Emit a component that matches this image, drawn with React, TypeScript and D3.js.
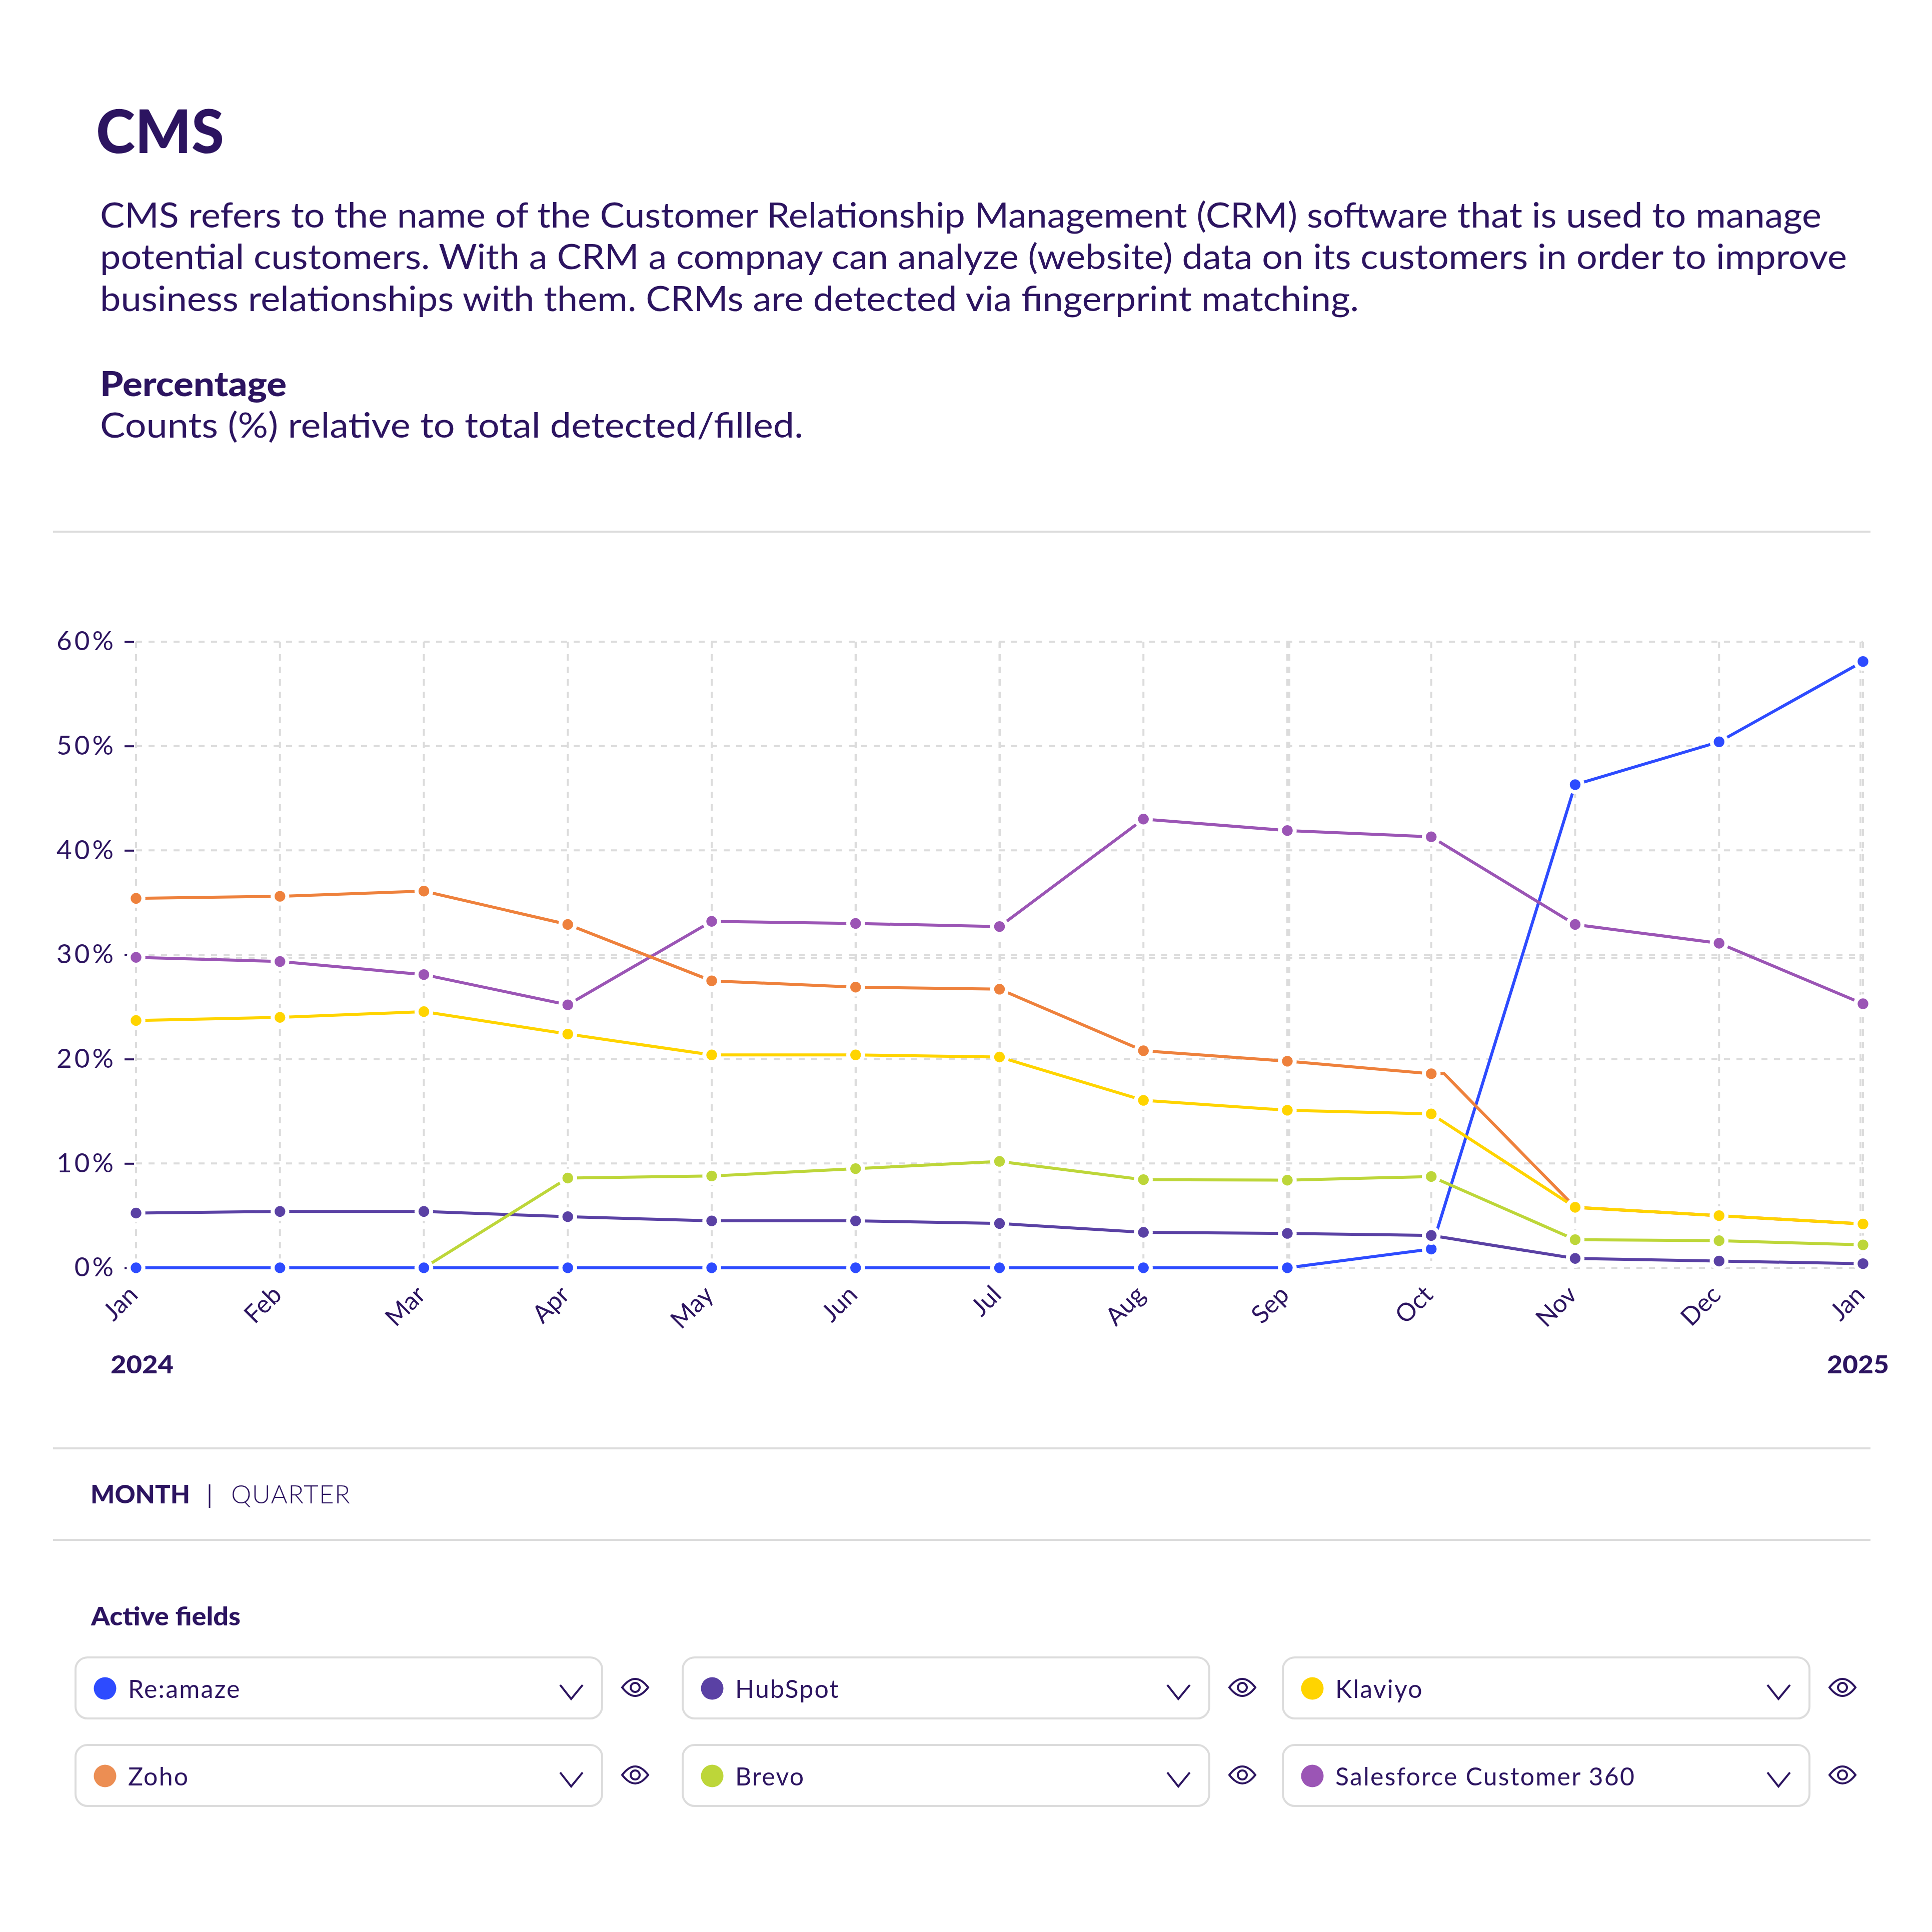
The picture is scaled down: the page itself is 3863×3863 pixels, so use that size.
import React, { useEffect, useRef } from 'react';
import * as d3 from 'd3';

const months = ['Jan', 'Feb', 'Mar', 'Apr', 'May', 'Jun', 'Jul', 'Aug', 'Sep', 'Oct', 'Nov', 'Dec', 'Jan'];
const monthIndex = months.map((_, i) => i);
const yTicks = [0, 10, 20, 30, 40, 50, 60];
// the source chart paints some grid lines twice, a bit apart
const extraXGrid = [5.004, 6.005, 8.014, 11.983];
const extraYGrid = [29.66];

const reamaze = [0, 0, 0, 0, 0, 0, 0, 0, 0, 1.8, 46.3, 50.4, 58.1];
const hubspot = [5.25, 5.4, 5.4, 4.9, 4.5, 4.5, 4.25, 3.4, 3.3, 3.1, 0.9, 0.65, 0.4];
const klaviyo = [23.7, 24.0, 24.55, 22.4, 20.4, 20.4, 20.2, 16.05, 15.1, 14.75, 5.8, 5.0, 4.2];
const zoho = [35.4, 35.6, 36.1, 32.9, 27.5, 26.9, 26.7, 20.8, 19.8, 18.6, 5.8, 5.0, 4.2];
const brevo = [null, null, 0, 8.6, 8.8, 9.5, 10.2, 8.45, 8.4, 8.75, 2.7, 2.6, 2.2];
const salesforce = [29.75, 29.35, 28.1, 25.2, 33.2, 33.0, 32.7, 43.0, 41.9, 41.3, 32.9, 31.1, 25.3];

const ink = '#2c1460';
const rule = '#dcdcdc';
const sans = 'Lato, sans-serif';

const series = [
  { name: 'Re:amaze', values: reamaze, color: '#2d4bff', swatch: '#2d4bff' },
  { name: 'HubSpot', values: hubspot, color: '#5a41a4', swatch: '#5a41a4' },
  { name: 'Klaviyo', values: klaviyo, color: '#ffd400', swatch: '#ffd400' },
  { name: 'Zoho', values: zoho, color: '#ee813c', swatch: '#ec8e53' },
  { name: 'Brevo', values: brevo, color: '#bdd639', swatch: '#bdd639' },
  { name: 'Salesforce Customer 360', values: salesforce, color: '#9b55b5', swatch: '#9b55b5' },
];
const lineOrder = ['Re:amaze', 'HubSpot', 'Salesforce Customer 360', 'Zoho', 'Klaviyo', 'Brevo'];
const dotOrder = ['Brevo', 'Zoho', 'Re:amaze', 'HubSpot', 'Klaviyo', 'Salesforce Customer 360'];

const bodyLines = [
  { text: 'CMS refers to the name of the Customer Relationship Management (CRM) software that is used to manage', y: 455, len: 3442 },
  { text: 'potential customers. With a CRM a compnay can analyze (website) data on its customers in order to improve', y: 538, len: 3493 },
  { text: 'business relationships with them. CRMs are detected via fingerprint matching.', y: 622, len: 2517 },
];

const legendCols = [151, 1365, 2565];
const legendRows = [3314, 3489];

const x = d3.scaleLinear().domain([0, 12]).range([272, 3725]);
const y = d3.scaleLinear().domain([0, 60]).range([2535, 1283]);

const Eye = ({ cx, cy }: { cx: number; cy: number }) => (
  <g fill="none" stroke={ink} strokeWidth={4}>
    <path d={`M${cx - 26},${cy} Q${cx},${cy - 34} ${cx + 26},${cy} Q${cx},${cy + 34} ${cx - 26},${cy} Z`} />
    <circle cx={cx} cy={cy} r={9} />
  </g>
);

const App: React.FC = () => {
  const chartRef = useRef<SVGGElement | null>(null);

  useEffect(() => {
    if (!chartRef.current) return;
    const g = d3.select(chartRef.current);
    g.selectAll('*').remove();

    const grid = g.append('g').attr('fill', 'none').attr('stroke', rule).attr('stroke-width', 4);
    grid.selectAll('.gy')
      .data([...yTicks, ...extraYGrid])
      .enter().append('line')
      .attr('x1', x(0)).attr('x2', x(12))
      .attr('y1', d => y(d)).attr('y2', d => y(d))
      .attr('stroke-dasharray', '12 13');
    grid.selectAll('.gx')
      .data([...monthIndex, ...extraXGrid])
      .enter().append('line')
      .attr('y1', y(60)).attr('y2', y(0))
      .attr('x1', d => x(d)).attr('x2', d => x(d))
      .attr('stroke-dasharray', '13 12');

    const yAxis = d3.axisLeft(y)
      .tickValues(yTicks)
      .tickSize(19)
      .tickSizeOuter(0)
      .tickPadding(17)
      .tickFormat(d => `${d}%`);
    const yG = g.append('g').attr('transform', 'translate(268,0)').call(yAxis);
    yG.select('.domain').remove();
    yG.selectAll('line').attr('stroke', ink).attr('stroke-width', 4);
    yG.selectAll('text')
      .attr('fill', ink)
      .style('font', `53px ${sans}`)
      .style('letter-spacing', '5px');

    const xAxis = d3.axisBottom(x)
      .tickValues(monthIndex)
      .tickSize(0)
      .tickFormat(d => months[d as number]);
    const xG = g.append('g').attr('transform', `translate(0,${y(0)})`).call(xAxis);
    xG.select('.domain').remove();
    xG.selectAll('text')
      .attr('fill', ink)
      .style('font', `50px ${sans}`)
      .attr('text-anchor', 'end')
      .attr('dy', 0)
      .attr('y', 0)
      .attr('transform', 'translate(6,57) rotate(-45)');

    const line = d3.line<number | null>()
      .defined(d => d != null)
      .x((_, i) => x(i))
      .y(d => y(d as number));

    lineOrder.forEach(name => {
      const s = series.find(k => k.name === name)!;
      // Zoho runs flat for a moment after Oct before it drops
      let path = line(s.values) as string;
      if (name === 'Zoho') {
        const kink = d3.line<[number, number]>().x(d => x(d[0])).y(d => y(d[1]));
        const pts = s.values.map((v, i) => [i, v] as [number, number]);
        pts.splice(10, 0, [9.09, 18.6]);
        path = kink(pts) as string;
      }
      g.append('path')
        .attr('d', path)
        .attr('fill', 'none')
        .attr('stroke', s.color)
        .attr('stroke-width', 6);
    });

    dotOrder.forEach(name => {
      const s = series.find(k => k.name === name)!;
      g.append('g').selectAll('circle')
        .data(s.values.map((v, i) => ({ v, i })).filter(d => d.v != null))
        .enter().append('circle')
        .attr('cx', d => x(d.i))
        .attr('cy', d => y(d.v as number))
        .attr('r', 14.7)
        .attr('fill', s.color)
        .attr('stroke', '#fff')
        .attr('stroke-width', 8);
    });
  }, []);

  return (
    <svg width={3863} height={3863} style={{ position: 'absolute', left: 0, top: 0, background: '#fff' }} fontFamily={sans} fill={ink}>
      <text x={192} y={306} fontSize={120} fontWeight={900} textLength={256} lengthAdjust="spacingAndGlyphs">CMS</text>
      {bodyLines.map(l => (
        <text key={l.y} x={200} y={l.y} fontSize={69} textLength={l.len} lengthAdjust="spacingAndGlyphs">{l.text}</text>
      ))}
      <text x={200} y={792} fontSize={69} fontWeight={900} textLength={373} lengthAdjust="spacingAndGlyphs">Percentage</text>
      <text x={200} y={875} fontSize={69} textLength={1406} lengthAdjust="spacingAndGlyphs">Counts (%) relative to total detected/filled.</text>

      {[1063, 2896, 3079].map(yy => (
        <line key={yy} x1={106} x2={3740} y1={yy} y2={yy} stroke={rule} strokeWidth={4} />
      ))}

      <g ref={chartRef} />

      <text x={221} y={2746} fontSize={50} fontWeight={900} textLength={126} lengthAdjust="spacingAndGlyphs">2024</text>
      <text x={3653} y={2746} fontSize={50} fontWeight={900} textLength={124} lengthAdjust="spacingAndGlyphs">2025</text>

      <text x={181} y={3006} fontSize={51} fontWeight={900} textLength={199} lengthAdjust="spacingAndGlyphs">MONTH</text>
      <line x1={419} x2={419} y1={2968} y2={3015} stroke={ink} strokeWidth={3} />
      <text x={462} y={3006} fontSize={51} fontWeight={300} textLength={238}>QUARTER</text>

      <text x={182} y={3250} fontSize={52} fontWeight={900} textLength={299} lengthAdjust="spacingAndGlyphs">Active fields</text>

      {series.map((s, i) => {
        const bx = legendCols[i % 3];
        const by = legendRows[Math.floor(i / 3)];
        return (
          <g key={s.name}>
            <rect x={bx} y={by} width={1053} height={122} rx={24} fill="#fff" stroke={rule} strokeWidth={4} />
            <circle cx={bx + 59} cy={by + 62} r={22.5} fill={s.swatch} />
            <text x={bx + 105} y={by + 81} fontSize={50} letterSpacing={2.2}>{s.name}</text>
            <path d={`M${bx + 969},${by + 55} L${bx + 991},${by + 83} L${bx + 1014},${by + 55}`} fill="none" stroke={ink} strokeWidth={4} />
            <Eye cx={bx + 1119} cy={by + 60} />
          </g>
        );
      })}
    </svg>
  );
};

export default App;
